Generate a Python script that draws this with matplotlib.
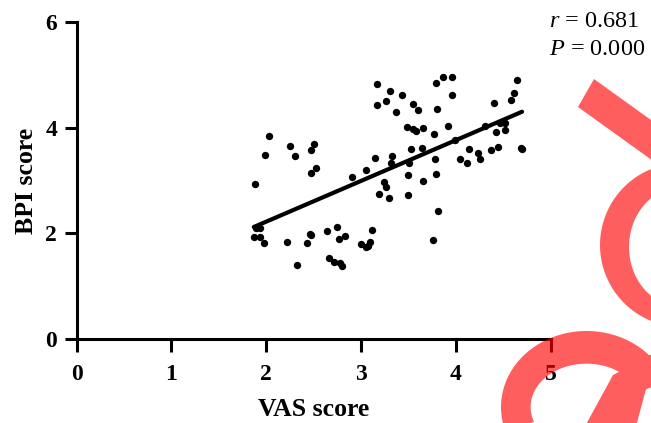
import numpy as np
import matplotlib
matplotlib.use("Agg")
import matplotlib.pyplot as plt
from matplotlib.path import Path
from matplotlib.patches import PathPatch
from matplotlib.transforms import IdentityTransform

# data
vas = [1.88, 1.87, 1.89, 1.94, 1.94, 1.98, 1.99, 2.03, 2.22, 2.25,
       2.31, 2.33, 2.43, 2.46, 2.47, 2.47, 2.50, 2.47, 2.53, 2.64,
       2.66, 2.72, 2.75, 2.77, 2.78, 2.80, 2.83, 2.91, 3.00, 3.05,
       3.05, 3.07, 3.10, 3.12, 3.15, 3.17, 3.17, 3.19, 3.24, 3.26,
       3.27, 3.30, 3.31, 3.32, 3.33, 3.37, 3.43, 3.49, 3.50, 3.50,
       3.51, 3.53, 3.55, 3.55, 3.58, 3.60, 3.64, 3.65, 3.66, 3.76,
       3.77, 3.78, 3.79, 3.79, 3.80, 3.81, 3.87, 3.92, 3.96, 3.96,
       3.99, 4.05, 4.12, 4.14, 4.24, 4.26, 4.31, 4.37, 4.40, 4.43,
       4.45, 4.47, 4.52, 4.52, 4.58, 4.61, 4.65, 4.69, 4.70]
bpi = [2.94, 1.93, 2.10, 2.10, 1.94, 1.81, 3.49, 3.85, 1.83, 3.65,
       3.47, 1.40, 1.81, 1.98, 1.97, 3.57, 3.70, 3.15, 3.23, 2.04,
       1.54, 1.46, 2.12, 1.89, 1.43, 1.39, 1.95, 3.07, 1.79, 3.19,
       1.75, 1.76, 1.83, 2.07, 3.43, 4.83, 4.42, 2.75, 2.97, 2.88,
       4.51, 2.67, 4.69, 3.33, 3.47, 4.30, 4.61, 4.01, 2.73, 3.10,
       3.33, 3.60, 4.44, 3.98, 3.94, 4.33, 3.61, 3.00, 3.99, 1.87,
       3.88, 3.40, 3.13, 4.85, 4.35, 2.42, 4.96, 4.04, 4.96, 4.62,
       3.77, 3.40, 3.33, 3.60, 3.52, 3.40, 4.03, 3.57, 4.47, 3.91,
       3.63, 4.08, 3.95, 4.09, 4.53, 4.66, 4.91, 3.62, 3.59]

fit_slope = 0.771
fit_intercept = 0.678
r_value = "0.681"
p_value = "0.000"
x_ticks = [0, 1, 2, 3, 4, 5]
y_ticks = [0, 2, 4, 6]

W, H = 651, 423
plt.rcParams['font.family'] = ['Liberation Serif', 'DejaVu Serif']
plt.rcParams['mathtext.fontset'] = 'custom'
plt.rcParams['mathtext.rm'] = 'Liberation Serif'
plt.rcParams['mathtext.it'] = 'Liberation Serif:italic'

fig = plt.figure(figsize=(W / 100, H / 100), dpi=100)
ax = fig.add_axes([76.5 / W, 1 - 339 / H, (550.5 - 76.5) / W, (339 - 22) / H])
ax.set_facecolor('none')

ax.scatter(vas, bpi, s=28, color='black', linewidths=0, zorder=3)
fx = np.array([min(vas), max(vas)])
ax.plot(fx, fit_intercept + fit_slope * fx, color='black', lw=3, solid_capstyle='round', zorder=4)

ax.set_xlim(0, 5)
ax.set_ylim(0, 6)
ax.set_xticks(x_ticks)
ax.set_yticks(y_ticks)
for s in ['top', 'right']:
    ax.spines[s].set_visible(False)
for s in ['left', 'bottom']:
    ax.spines[s].set_linewidth(2.2)
ax.tick_params(width=2.2, length=9, labelsize=17)
ax.tick_params(axis='x', pad=9)
ax.tick_params(axis='y', pad=5)
for lab in ax.get_xticklabels() + ax.get_yticklabels():
    lab.set_fontweight('bold')

ax.set_xlabel('VAS score', fontsize=18.5, fontweight='bold', labelpad=9)
ax.set_ylabel('BPI score', fontsize=18.5, fontweight='bold', labelpad=5)

fig.text(549 / W, 1 - 27 / H, r"$r$ = " + r_value, fontsize=17.5, va='baseline')
fig.text(549 / W, 1 - 55 / H, r"$P$ = " + p_value, fontsize=17.5, va='baseline')


# red watermark pieces, drawn in pixel coordinates (y measured from top)
def to_disp(pts):
    pts = np.asarray(pts, dtype=float)
    return np.column_stack([pts[:, 0], H - pts[:, 1]])


def ell(cx, cy, a, b, t0, t1, n=120):
    t = np.radians(np.linspace(t0, t1, n))
    return np.column_stack([cx + a * np.cos(t), cy - b * np.sin(t)])


def orient(pts, ccw=True):
    d = to_disp(pts)
    area = 0.5 * np.sum(d[:, 0] * np.roll(d[:, 1], -1) - np.roll(d[:, 0], -1) * d[:, 1])
    if (area > 0) != ccw:
        d = d[::-1]
    return d


def make_path(polys):
    verts, codes = [], []
    for p in polys:
        verts.extend(p.tolist())
        verts.append(p[0].tolist())
        codes.extend([Path.MOVETO] + [Path.LINETO] * (len(p) - 1) + [Path.CLOSEPOLY])
    return Path(verts, codes)


dvec = np.array([0.812, 0.584]) * 250
band = np.array([[594, 79], [578, 107], [578 + dvec[0], 107 + dvec[1]], [594 + dvec[0], 79 + dvec[1]]])
ring_out = ell(682, 245, 82, 82, 0, 360)
ring_in = ell(682, 247, 53, 60, 0, 360)
arc_band = np.vstack([ell(586.5, 407, 85.5, 76, 20, 200), ell(586.5, 407, 55.9, 43.3, 200, 20)])
stem = np.array([[613, 375], [656, 352], [635, 430], [583, 430]])

pieces = [
    [orient(band)],
    [orient(ring_out, True), orient(ring_in, False)],
    [orient(arc_band), orient(stem)],
]
for polys in pieces:
    fig.add_artist(PathPatch(make_path(polys), facecolor='red', edgecolor='none', alpha=0.63,
                             transform=IdentityTransform(), zorder=10))

fig.savefig('out.png', dpi=100)
